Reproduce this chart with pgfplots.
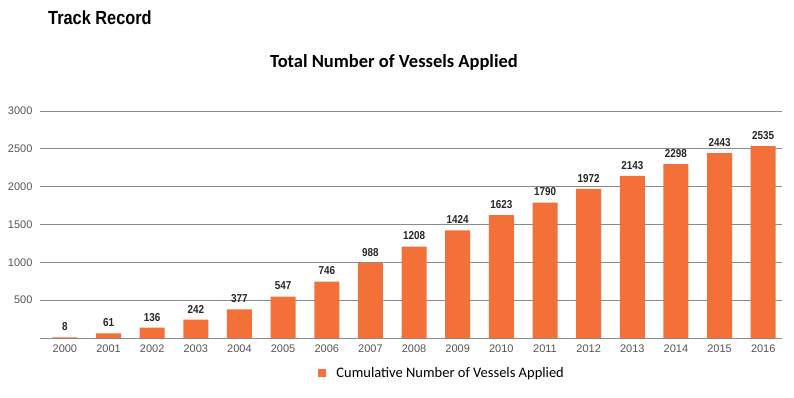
\documentclass[border=0pt]{standalone}
\usepackage{pgfplots}
\pgfplotsset{compat=1.18}
\usepackage{fontspec}
\setmainfont{Liberation Sans}
\newfontfamily\calibri{Carlito}
\newfontfamily\narrowfont[FakeStretch=0.86]{Liberation Sans}
\definecolor{barorange}{RGB}{243,112,56}
\definecolor{gridgray}{RGB}{140,140,140}
\definecolor{ticktext}{RGB}{85,85,85}
\begin{document}
\begin{tikzpicture}[x=1pt,y=1pt]
\path[use as bounding box] (0,0) rectangle (794,397);
\node[anchor=west,inner sep=0pt] at (48,379) {\narrowfont\fontsize{19}{19}\selectfont\bfseries Track Record};
\node[inner sep=0pt] at (394,335) {\calibri\fontsize{18.5}{18.5}\selectfont\bfseries Total Number of Vessels Applied};
\begin{axis}[
  at={(40pt,59pt)}, anchor=south west,
  scale only axis, width=742pt, height=227pt,
  xmin=-0.57, xmax=16.43, ymin=0, ymax=3000,
  ytick={500,1000,1500,2000,2500,3000},
  xtick={0,...,16},
  xticklabels={2000,2001,2002,2003,2004,2005,2006,2007,2008,2009,2010,2011,2012,2013,2014,2015,2016},
  axis line style={draw=none},
  ymajorgrids, grid style={gridgray, line width=0.7pt},
  major tick length=0pt,
  tick label style={font=\fontsize{11}{11}\selectfont, text=ticktext},
  /pgf/number format/assume math mode=true,
  /pgf/number format/1000 sep={},
  yticklabel style={xshift=-4pt},
  xticklabel style={yshift=-3pt},
  nodes near coords,
  every node near coord/.append style={font=\narrowfont\fontsize{11.5}{11.5}\selectfont\bfseries, text=black!85, yshift=3pt},
  legend style={at={(0.542,-0.154)}, anchor=center, draw=none, fill=none,
    font=\calibri\fontsize{14.5}{14.5}\selectfont, text=black},
  legend image code/.code={\fill[barorange] (0pt,-4pt) rectangle (8pt,4pt);},
  legend cell align=left,
]
\draw[gridgray, line width=0.9pt] (axis cs:-0.57,0) -- (axis cs:16.43,0);
\addplot[ybar, bar width=25pt, fill=barorange, draw=none] coordinates {
(0,8) (1,61) (2,136) (3,242) (4,377) (5,547) (6,746) (7,988) (8,1208)
(9,1424) (10,1623) (11,1790) (12,1972) (13,2143) (14,2298) (15,2443) (16,2535)};
\addlegendentry{\hspace{8pt}Cumulative Number of Vessels Applied}
\end{axis}
\end{tikzpicture}
\end{document}
